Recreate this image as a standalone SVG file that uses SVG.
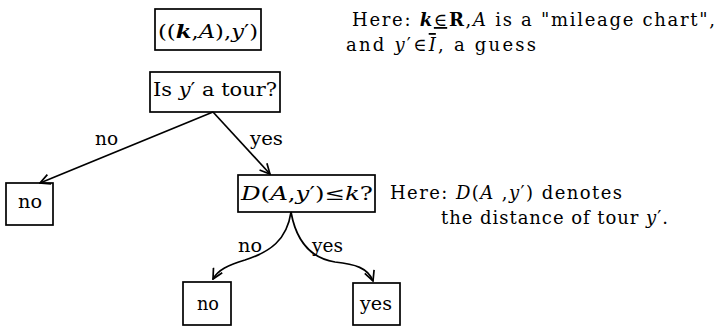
<svg xmlns="http://www.w3.org/2000/svg" width="719" height="328" viewBox="0 0 719 328">
<style>
.box{fill:#fff;stroke:#000;stroke-width:1.7}
.t{font-family:"DejaVu Serif","Liberation Serif",serif;font-size:18px;fill:#000}
.b{font-family:"DejaVu Serif","Liberation Serif",serif;font-size:18px;fill:#000}
.l{font-family:"DejaVu Serif","Liberation Serif",serif;font-size:18px;fill:#000}
.e{fill:none;stroke:#000;stroke-width:1.7}
</style>
<defs>
<marker id="ah" viewBox="0 0 12 12" refX="11" refY="6" markerWidth="12" markerHeight="12" markerUnits="userSpaceOnUse" orient="auto">
<path d="M1,1 L11,6 L1,11" fill="none" stroke="#000" stroke-width="1.7"/>
</marker>
</defs>
<g id="input">
<rect class="box" x="155" y="9" width="106" height="41"/>
<text class="b" x="158" y="38" textLength="100" lengthAdjust="spacingAndGlyphs">((<tspan font-style="italic" font-weight="bold">k</tspan>,<tspan font-style="italic">A</tspan>),<tspan font-style="italic">y</tspan>′)</text>
</g>
<g id="note1">
<text class="t" x="352" y="26" textLength="363" lengthAdjust="spacing">Here: <tspan font-style="italic" font-weight="bold">k</tspan><tspan text-decoration="underline">∈</tspan><tspan font-weight="bold">R</tspan>,<tspan font-style="italic">A</tspan>  is a "mileage chart",</text>
<text class="t" x="346" y="51" textLength="190" lengthAdjust="spacing">and <tspan font-style="italic">y</tspan>′∈<tspan font-style="italic" text-decoration="overline">I</tspan>, a guess</text>
</g>
<g id="tour">
<rect class="box" x="150" y="72" width="130" height="40"/>
<text class="b" x="153" y="96" textLength="124" lengthAdjust="spacingAndGlyphs">Is <tspan font-style="italic">y</tspan>′ a tour?</text>
</g>
<g id="no1">
<rect class="box" x="6" y="183" width="47" height="42"/>
<text class="l" x="18" y="208" textLength="24" lengthAdjust="spacingAndGlyphs">no</text>
</g>
<g id="dist">
<rect class="box" x="238" y="175" width="137" height="37"/>
<text class="b" x="241" y="200" textLength="132" lengthAdjust="spacingAndGlyphs"><tspan font-style="italic">D</tspan>(<tspan font-style="italic">A</tspan>,<tspan font-style="italic">y</tspan>′)≤<tspan font-style="italic">k</tspan>?</text>
</g>
<g id="note2">
<text class="t" x="390" y="199" textLength="232" lengthAdjust="spacing">Here: <tspan font-style="italic">D</tspan>(<tspan font-style="italic">A</tspan> ,<tspan font-style="italic">y</tspan>′) denotes</text>
<text class="t" x="441" y="224" textLength="227" lengthAdjust="spacing">the distance of tour <tspan font-style="italic">y</tspan>′.</text>
</g>
<g id="no2">
<rect class="box" x="183" y="282" width="48" height="43"/>
<text class="l" x="197" y="310" textLength="22" lengthAdjust="spacingAndGlyphs">no</text>
</g>
<g id="yes">
<rect class="box" x="353" y="283" width="47" height="42"/>
<text class="l" x="360" y="310" textLength="32" lengthAdjust="spacingAndGlyphs">yes</text>
</g>
<g id="connectors">
<path class="e" d="M213,112 L40,183" marker-end="url(#ah)"/>
<path class="e" d="M213,112 L270,174" marker-end="url(#ah)"/>
<path class="e" d="M291,212 C287,240 270,252 245,260 C228,265 218,270 213,279" marker-end="url(#ah)"/>
<path class="e" d="M291,212 C296,240 310,258 335,262 C355,264 368,268 373,281" marker-end="url(#ah)"/>
<text class="l" x="95" y="145" textLength="23" lengthAdjust="spacingAndGlyphs">no</text>
<text class="l" x="250" y="145" textLength="33" lengthAdjust="spacingAndGlyphs">yes</text>
<text class="l" x="238" y="252" textLength="24" lengthAdjust="spacingAndGlyphs">no</text>
<text class="l" x="312" y="252" textLength="31" lengthAdjust="spacingAndGlyphs">yes</text>
</g>
</svg>
